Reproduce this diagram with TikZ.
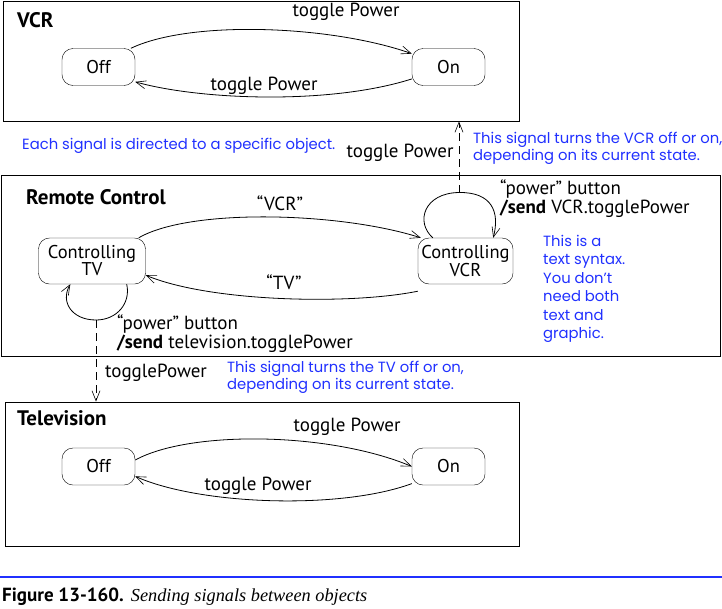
\documentclass[tikz,border=0pt]{standalone}
\usepackage{fontspec}
\setmainfont{PT Sans}
\newfontfamily\bluefont{Poppins}
\newfontfamily\capserif{Liberation Serif}
\usetikzlibrary{arrows.meta}
\definecolor{noteblue}{RGB}{32,48,255}
\tikzset{
  state/.style={draw, rounded corners=11pt, minimum width=73pt, minimum height=37pt, inner sep=0pt, align=center, font=\fontsize{18.5}{17}\selectfont},
  bigstate/.style={state, minimum width=#1, minimum height=46pt},
  frame/.style={draw, line width=0.9pt},
  arr/.style={line width=0.8pt, -{Straight Barb[length=10pt,width=8pt,line width=0.6pt]}},
  dasharr/.style={arr, dash pattern=on 8pt off 5pt},
  lbl/.style={inner sep=0pt, font=\fontsize{19}{19}\selectfont},
  ttl/.style={inner sep=0pt, anchor=west, font=\fontsize{21}{22}\selectfont\bfseries},
  note/.style={inner sep=0pt, anchor=north west, align=left, text=noteblue, font=\bluefont\fontsize{14.8}{17}\selectfont},
}
\begin{document}
\begin{tikzpicture}[x=1pt,y=-1pt]
\useasboundingbox (0,0) rectangle (722,608);
% frames
\node[frame, minimum width=516pt, minimum height=120pt, inner sep=0pt] (vcrF) at (261,61) {};
\node[frame, minimum width=719pt, minimum height=181pt, inner sep=0pt] (rcF) at (360.5,265.5) {};
\node[frame, minimum width=514pt, minimum height=144pt, inner sep=0pt] (tvF) at (262,474) {};
\node[ttl] (vcrT) at (17,20) {VCR};
\node[ttl] (rcT) at (26,197) {Remote Control};
\node[ttl] (tvT) at (17,418) {Television};

% VCR states
\node[state] (vOff) at (98.5,67) {Off};
\node[state] (vOn) at (448.5,67) {On};
\draw[arr] (vOff.30) .. controls (190,20) and (330,25) .. (vOn.160);
\draw[arr] (vOn.198) .. controls (330,105) and (200,100) .. (vOff.-22);
\node[lbl] (vl1) at (346,12) {toggle Power};
\node[lbl] (vl2) at (264,86) {toggle Power};

% Remote control states
\node[bigstate=107pt] (cTV) at (92,261) {Controlling\\TV};
\node[bigstate=95pt] (cVCR) at (465.5,261) {Controlling\\VCR};
\draw[arr] ([xshift=-7pt]cTV.north east) .. controls (190,208) and (340,212) .. ([xshift=3pt]cVCR.north west);
\draw[arr] ([yshift=-7pt]cVCR.south west) .. controls (350,305) and (210,302) .. ([yshift=9pt]cTV.south east);
\node[lbl] (lVCR) at (280,203) {“VCR”};
\node[lbl] (lTV) at (284,282) {“TV”};

% VCR self loop
\coordinate (vLoopTop) at (459,192.5);
\draw[line width=0.8pt] ([xshift=15pt]cVCR.north west) .. controls (415,222) and (424,193) .. (vLoopTop);
\draw[arr] (vLoopTop) .. controls (492,192) and (500,212) .. ([xshift=-20pt]cVCR.north east);
\draw[dasharr] (vLoopTop) -- (vLoopTop |- vcrF.south);
\node[lbl] (lTP1) at (400,153) {toggle Power};
\node[lbl, anchor=north west, align=left] (loopV) at (500,180) {“power” button\\\textbf{/send} VCR.togglePower};

% TV self loop
\coordinate (tLoopBot) at (96,320);
\draw[line width=0.8pt] ([xshift=-19pt]cTV.south east) .. controls (131,303) and (117,320) .. (tLoopBot);
\draw[arr] (tLoopBot) .. controls (72,320) and (60,302) .. ([xshift=32pt]cTV.south west);
\draw[dasharr] (tLoopBot) -- (tLoopBot |- tvF.north);
\node[lbl] (lTP2) at (156,373) {togglePower};
\node[lbl, anchor=north west, align=left] (loopT) at (117,315) {“power” button\\\textbf{/send} television.togglePower};

% Television states
\node[state] (tOff) at (98.5,466.5) {Off};
\node[state] (tOn) at (448.5,466.5) {On};
\draw[arr] (tOff.10) .. controls (190,430) and (330,432) .. (tOn.west);
\draw[arr] (tOn.205) .. controls (340,510) and (200,505) .. (tOff.-15);
\node[lbl] (tl1) at (347,427) {toggle Power};
\node[lbl] (tl2) at (258,486) {toggle Power};

% notes
\node[note] (n1) at (22,138) {Each signal is directed to a specific object.};
\node[note] (n2) at (473,132) {This signal turns the VCR off or on,\\depending on its current state.};
\node[note] (n3) at (227,361) {This signal turns the TV off or on,\\depending on its current state.};
\node[note, font=\bluefont\fontsize{14.8}{18.4}\selectfont] (n4) at (543,235) {This is a\\text syntax.\\You don’t\\need both\\text and\\graphic.};

% caption
\coordinate (ruleL) at (0,577);
\coordinate (ruleR) at (722,577);
\draw[noteblue, line width=2pt] (ruleL) -- (ruleR);
\node[inner sep=0pt, anchor=west] (cap) at (2,597) {\fontsize{19}{20}\selectfont\textbf{Figure 13-160.}\hspace{7pt}{\capserif\itshape\fontsize{18.3}{20}\selectfont Sending signals between objects}};
\end{tikzpicture}
\end{document}
